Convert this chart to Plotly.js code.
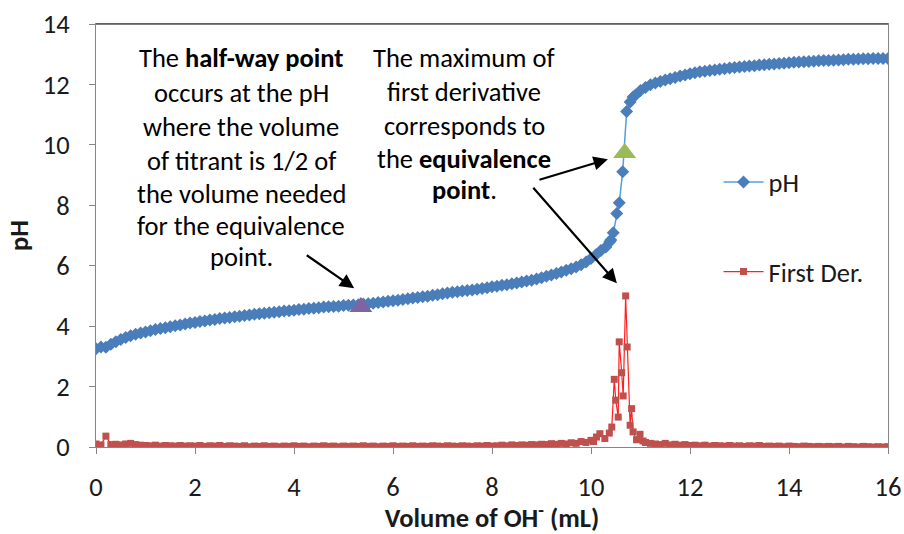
<!DOCTYPE html>
<html>
<head>
<meta charset="utf-8">
<script src="https://cdn.plot.ly/plotly-3.0.1.min.js"></script>
<style>html,body{margin:0;padding:0;background:#fff;}#chart{width:904px;height:534px;}</style>
</head>
<body>
<div id="chart"></div>
<script>
// pH titration curve (Volume of OH- in mL, pH)
const phVolume = [0.0,0.1,0.2,0.3,0.4,0.5,0.6,0.7,0.8,0.9,1.0,1.1,1.2,1.3,1.4,1.5,1.6,1.7,1.8,1.9,2.0,2.1,2.2,2.3,2.4,2.5,2.6,2.7,2.8,2.9,3.0,3.1,3.2,3.3,3.4,3.5,3.6,3.7,3.8,3.9,4.0,4.1,4.2,4.3,4.4,4.5,4.6,4.7,4.8,4.9,5.0,5.1,5.2,5.3,5.4,5.5,5.6,5.7,5.8,5.9,6.0,6.1,6.2,6.3,6.4,6.5,6.6,6.7,6.8,6.9,7.0,7.1,7.2,7.3,7.4,7.5,7.6,7.7,7.8,7.9,8.0,8.1,8.2,8.3,8.4,8.5,8.6,8.7,8.8,8.9,9.0,9.1,9.2,9.3,9.4,9.5,9.6,9.7,9.8,9.9,10.0,10.1,10.2,10.3,10.38,10.4,10.45,10.52,10.57,10.64,10.72,10.79,10.85,10.9,11.0,11.1,11.2,11.3,11.4,11.5,11.6,11.7,11.8,11.9,12.0,12.1,12.2,12.3,12.4,12.5,12.6,12.7,12.8,12.9,13.0,13.1,13.2,13.3,13.4,13.5,13.6,13.7,13.8,13.9,14.0,14.1,14.2,14.3,14.4,14.5,14.6,14.7,14.8,14.9,15.0,15.1,15.2,15.3,15.4,15.5,15.6,15.7,15.8,15.9,16.0];
const phValues = [3.25,3.31,3.30,3.40,3.48,3.56,3.62,3.68,3.73,3.77,3.81,3.85,3.89,3.92,3.95,3.98,4.01,4.04,4.07,4.10,4.12,4.15,4.17,4.20,4.22,4.25,4.27,4.29,4.31,4.33,4.35,4.37,4.39,4.41,4.43,4.44,4.46,4.48,4.50,4.51,4.53,4.55,4.56,4.58,4.59,4.61,4.63,4.64,4.65,4.66,4.68,4.69,4.70,4.71,4.73,4.74,4.76,4.78,4.80,4.82,4.84,4.86,4.88,4.91,4.93,4.95,4.97,4.99,5.02,5.04,5.07,5.10,5.12,5.14,5.16,5.18,5.20,5.22,5.25,5.27,5.30,5.32,5.35,5.37,5.40,5.43,5.46,5.49,5.52,5.56,5.60,5.65,5.69,5.74,5.79,5.85,5.90,5.96,6.03,6.12,6.24,6.36,6.50,6.62,6.79,6.85,7.09,7.73,8.08,9.11,11.10,11.42,11.58,11.65,11.80,11.90,11.99,12.05,12.10,12.15,12.19,12.23,12.28,12.31,12.35,12.39,12.42,12.44,12.46,12.48,12.50,12.52,12.54,12.56,12.58,12.59,12.61,12.62,12.64,12.65,12.67,12.68,12.69,12.70,12.72,12.73,12.74,12.75,12.76,12.77,12.78,12.79,12.79,12.80,12.81,12.82,12.83,12.83,12.84,12.85,12.85,12.86,12.86,12.86,12.86];

// First derivative
const derVolume = [0.0,0.1,0.2,0.3,0.4,0.5,0.6,0.7,0.8,0.9,1.0,1.1,1.2,1.3,1.4,1.5,1.6,1.7,1.8,1.9,2.0,2.1,2.2,2.3,2.4,2.5,2.6,2.7,2.8,2.9,3.0,3.1,3.2,3.3,3.4,3.5,3.6,3.7,3.8,3.9,4.0,4.1,4.2,4.3,4.4,4.5,4.6,4.7,4.8,4.9,5.0,5.1,5.2,5.3,5.4,5.5,5.6,5.7,5.8,5.9,6.0,6.1,6.2,6.3,6.4,6.5,6.6,6.7,6.8,6.9,7.0,7.1,7.2,7.3,7.4,7.5,7.6,7.7,7.8,7.9,8.0,8.1,8.2,8.3,8.4,8.5,8.6,8.7,8.8,8.9,9.0,9.1,9.2,9.3,9.4,9.5,9.6,9.7,9.8,9.9,10.0,10.05,10.11,10.18,10.28,10.37,10.42,10.47,10.50,10.55,10.57,10.62,10.65,10.70,10.73,10.79,10.82,10.85,10.92,10.99,11.05,11.1,11.2,11.3,11.4,11.5,11.6,11.7,11.8,11.9,12.0,12.1,12.2,12.3,12.4,12.5,12.6,12.7,12.8,12.9,13.0,13.1,13.2,13.3,13.4,13.5,13.6,13.7,13.8,13.9,14.0,14.1,14.2,14.3,14.4,14.5,14.6,14.7,14.8,14.9,15.0,15.1,15.2,15.3,15.4,15.5,15.6,15.7,15.8,15.9,16.0];
const derValues = [0.10,0.07,0.36,0.08,0.09,0.07,0.10,0.12,0.08,0.06,0.05,0.04,0.06,0.03,0.05,0.04,0.03,0.05,0.03,0.04,0.03,0.05,0.02,0.04,0.03,0.05,0.02,0.04,0.03,0.02,0.04,0.01,0.03,0.02,0.04,0.02,0.03,0.01,0.03,0.02,0.04,0.02,0.03,0.01,0.03,0.02,0.04,0.02,0.03,0.01,0.03,0.02,0.03,0.02,0.04,0.02,0.03,0.01,0.03,0.02,0.04,0.02,0.03,0.02,0.04,0.02,0.03,0.02,0.04,0.03,0.02,0.04,0.03,0.02,0.04,0.03,0.02,0.04,0.03,0.05,0.03,0.04,0.06,0.04,0.07,0.05,0.07,0.06,0.08,0.07,0.09,0.08,0.11,0.09,0.12,0.10,0.14,0.12,0.18,0.15,0.22,0.18,0.33,0.44,0.28,0.46,0.66,2.24,1.55,0.99,3.48,2.46,1.69,5.00,3.31,0.72,1.27,0.50,0.24,0.42,0.20,0.15,0.12,0.10,0.08,0.12,0.07,0.09,0.06,0.08,0.05,0.06,0.04,0.06,0.03,0.05,0.04,0.03,0.05,0.03,0.04,0.02,0.04,0.03,0.05,0.02,0.03,0.02,0.03,0.01,0.03,0.02,0.01,0.03,0.02,0.01,0.02,0.01,0.02,0.01,0.02,0.00,0.02,0.01,0.00,0.02,0.01,0.00,0.01,0.00,0.01];

// Highlighted points
const halfwayPoint = {x: [5.35], y: [4.63]};
const equivPoint = {x: [10.68], y: [9.73]};

const FONT = 'Carlito, Calibri, "Open Sans", sans-serif';
const TXT = '#1a1a1a';
const FS = 26.5;

const traces = [
  {x: phVolume, y: phValues, name: 'pH', type: 'scatter', mode: 'lines+markers',
   line: {color: '#4F9FDF', width: 1.5},
   marker: {symbol: 'diamond', size: 10, color: '#4A7EBB'}, legend: 'legend'},
  {x: derVolume, y: derValues, name: 'First Der.', type: 'scatter', mode: 'lines+markers',
   line: {color: '#FF2020', width: 1.2},
   marker: {symbol: 'square', size: 7, color: '#C0504D'}, legend: 'legend2'},
  {x: halfwayPoint.x, y: halfwayPoint.y, type: 'scatter', mode: 'markers', showlegend: false,
   marker: {symbol: 'triangle-up', size: 20, color: '#8064A2'}},
  {x: equivPoint.x, y: equivPoint.y, type: 'scatter', mode: 'markers', showlegend: false,
   marker: {symbol: 'triangle-up', size: 20, color: '#9BBB59'}}
];

function py(p) { return (446.7 - p) / 30.2; }
function px(p) { return (p - 95.5) / 49.56; }

const leftLines = ['The <b>half-way point</b>','occurs at the pH','where the volume','of titrant is 1/2 of','the volume needed','for the equivalence','point.'];
const leftY = [58,93,127,161,194,226,257];
const rightLines = ['The maximum of','first derivative','corresponds to','the <b>equivalence</b>','<b>point</b>.'];
const rightY = [58,92,126,159,190];

const annotations = [];
leftLines.forEach((t,i)=>annotations.push({x: px(241), y: py(leftY[i]), xref:'x', yref:'y', text: t, showarrow:false, font:{family:FONT,size:FS,color:'#000'}}));
rightLines.forEach((t,i)=>annotations.push({x: px(464), y: py(rightY[i]), xref:'x', yref:'y', text: t, showarrow:false, font:{family:FONT,size:FS,color:'#000'}}));
// arrows
annotations.push({x: px(354), y: py(288), xref:'x', yref:'y', ax: px(305), ay: py(254), axref:'x', ayref:'y', text:'', showarrow:true, arrowhead:2, arrowsize:1.3, arrowwidth:2.2, arrowcolor:'#000'});
annotations.push({x: px(608), y: py(159), xref:'x', yref:'y', ax: px(538), ay: py(180), axref:'x', ayref:'y', text:'', showarrow:true, arrowhead:2, arrowsize:1.3, arrowwidth:2.2, arrowcolor:'#000'});
annotations.push({x: px(617), y: py(283), xref:'x', yref:'y', ax: px(532), ay: py(186), axref:'x', ayref:'y', text:'', showarrow:true, arrowhead:2, arrowsize:1.3, arrowwidth:2.2, arrowcolor:'#000'});

const legendCommon = {font:{family:FONT,size:FS,color:TXT}, bgcolor:'rgba(0,0,0,0)', xanchor:'left', yanchor:'middle', itemwidth:40};

const layout = {
  width: 904, height: 534,
  margin: {l: 96, r: 16, t: 24, b: 87, pad: 0},
  paper_bgcolor: '#fff', plot_bgcolor: '#fff',
  font: {family: FONT, size: FS, color: TXT},
  xaxis: {range: [0, 16], dtick: 2, tick0: 0, showgrid: false, zeroline: false,
          showline: true, linecolor: '#868686', linewidth: 1, mirror: true,
          ticks: 'outside', ticklen: 6, tickcolor: '#868686', ticklabelstandoff: 10,
          tickfont: {family: FONT, size: FS, color: TXT},
          title: {text: '<b>Volume of OH<sup>-</sup> (mL)</b>', font: {family: FONT, size: FS, color: TXT}, standoff: 18}},
  yaxis: {range: [0, 14], dtick: 2, tick0: 0, showgrid: false, zeroline: false,
          showline: true, linecolor: '#868686', linewidth: 1, mirror: true,
          ticks: 'outside', ticklen: 6, tickcolor: '#868686', ticklabelstandoff: 14,
          tickfont: {family: FONT, size: FS, color: TXT},
          title: {text: '<b>pH</b>', font: {family: FONT, size: FS, color: TXT}, standoff: 6}},
  legend: Object.assign({x: 0.786, y: 0.626}, legendCommon),
  legend2: Object.assign({x: 0.786, y: 0.414}, legendCommon),
  annotations: annotations,
  shapes: [{type:'line', xref:'paper', yref:'paper', x0:0, x1:1, y0:1, y1:1, line:{color:'#555', width:1.5}}]
};

Plotly.newPlot('chart', traces, layout, {displayModeBar: false, staticPlot: true});
</script>
</body>
</html>
